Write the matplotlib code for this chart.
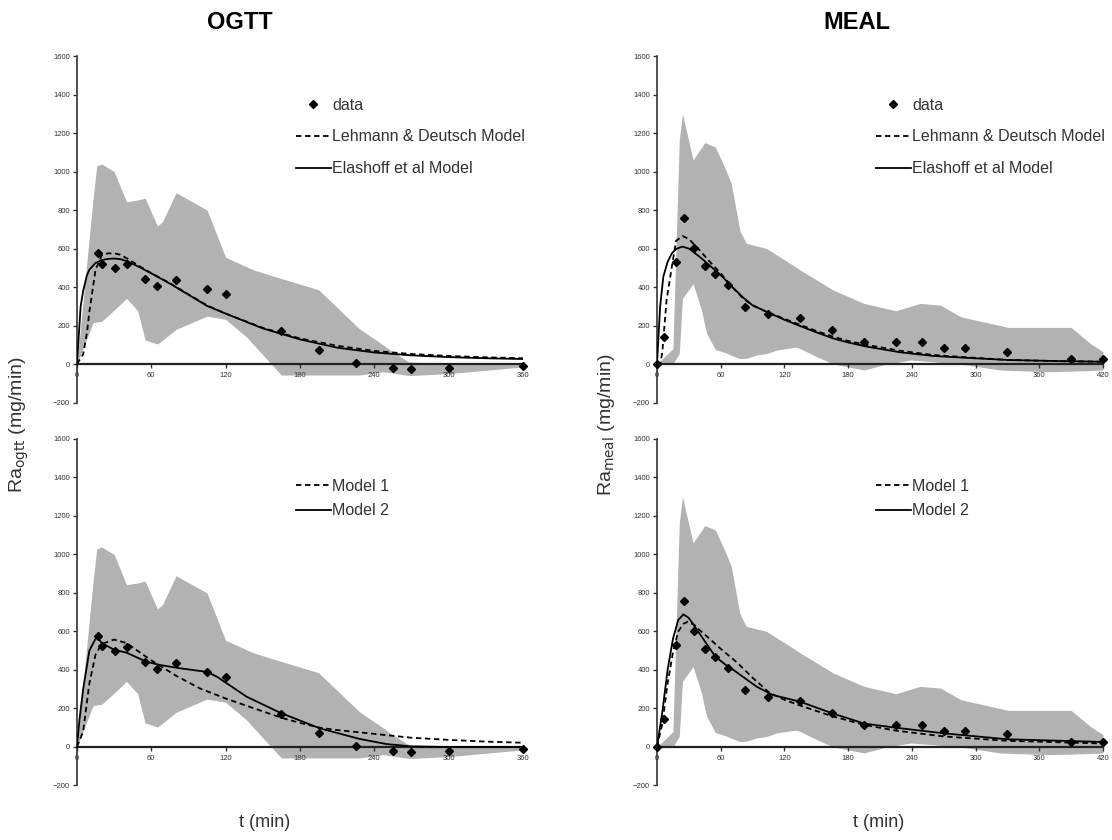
import matplotlib
matplotlib.use("Agg")
import matplotlib.pyplot as plt

plt.rcParams['font.family'] = ['Liberation Sans', 'DejaVu Sans']

# ---- OGTT data (mean) ----
ogtt_t = [17, 20, 31, 40, 55, 65, 80, 105, 120, 165, 195, 225, 255, 270, 300, 360]
ogtt_y = [575, 522, 500, 520, 443, 407, 435, 391, 364, 173, 74, 7, -21, -28, -21, -10]

# OGTT SD band
ogtt_band_t = [0, 13, 16, 20, 30, 40, 49, 55, 65, 69, 80, 105, 120, 137, 143,
               165, 195, 228, 247, 253, 268, 300, 360]
ogtt_band_hi = [0, 860, 1030, 1039, 1000, 843, 852, 862, 717, 739, 890, 800, 554, 505, 488,
                444, 386, 183, 100, 72, 10, 5, 5]
ogtt_band_lo = [0, 215, 218, 222, 280, 341, 277, 125, 104, 123, 180, 249, 232, 140, 97,
                -57, -57, -57, -40, -45, -60, -50, -15]

# OGTT models (top): Lehmann & Deutsch, Elashoff
ogtt_ld_t = [0, 5, 8, 10, 15, 20, 25, 30, 35, 40, 50, 60, 75, 90, 105, 120, 150, 180, 210, 240, 270, 300, 330, 360]
ogtt_ld_y = [0, 50, 160, 270, 490, 565, 575, 575, 568, 550, 510, 472, 420, 362, 305, 262, 188, 133, 95, 68, 52, 42, 35, 30]
ogtt_el_t = [0, 3, 5, 8, 10, 15, 20, 25, 30, 35, 40, 50, 60, 75, 90, 105, 120, 150, 180, 210, 240, 270, 300, 330, 360]
ogtt_el_y = [0, 300, 380, 460, 490, 525, 540, 546, 548, 545, 535, 505, 471, 418, 360, 302, 262, 185, 128, 85, 60, 45, 36, 30, 26]

# OGTT models (bottom): Model 1, Model 2
ogtt_m1_t = [0, 5, 10, 15, 20, 30, 40, 50, 60, 80, 100, 120, 150, 165, 180, 196, 210, 228, 240, 261, 270, 300, 330, 360]
ogtt_m1_y = [0, 80, 330, 480, 535, 558, 540, 495, 450, 370, 302, 252, 185, 152, 125, 100, 88, 76, 68, 54, 48, 37, 28, 22]
ogtt_m2_t = [0, 2, 5, 10, 16, 20, 30, 40, 56, 67, 83, 105, 113, 137, 164, 196, 228, 250, 270, 300, 360]
ogtt_m2_y = [0, 140, 300, 500, 575, 540, 505, 490, 443, 426, 409, 390, 365, 261, 178, 97, 42, 15, 3, 0, 0]

# ---- MEAL data (mean) ----
meal_t = [0, 7, 18, 25, 35, 45, 55, 67, 83, 105, 135, 165, 195, 225, 250, 270, 290, 330, 390, 420]
meal_y = [0, 143, 528, 757, 604, 511, 470, 408, 295, 262, 237, 175, 116, 114, 116, 82, 85, 65, 27, 24]

# MEAL SD band
meal_band_t = [0, 15, 21, 24, 34, 42, 45, 47, 55, 65, 70, 78, 84, 94, 103, 113, 131, 135, 147, 166,
               195, 213, 225, 239, 248, 260, 267, 286, 292, 323, 331, 370, 390, 408, 420]
meal_band_hi = [0, 80, 1163, 1300, 1060, 1125, 1150, 1146, 1127, 1006, 937, 694, 627, 613, 601, 566, 503, 488, 448, 384,
                315, 292, 277, 300, 315, 309, 306, 246, 238, 200, 190, 190, 190, 107, 64]
meal_band_lo = [0, 0, 55, 341, 417, 279, 200, 157, 75, 58, 45, 28, 30, 47, 54, 73, 88, 80, 47, 0,
                -31, -5, 8, 21, 17, 12, 8, -2, -5, -31, -33, -40, -37, -34, -31]

# MEAL models (top)
meal_ld_t = [0, 3, 5, 9, 14, 18, 24, 30, 40, 50, 60, 70, 81, 90, 103, 120, 135, 150, 166, 180, 198, 229, 260, 292, 331, 380, 420]
meal_ld_y = [0, 0, 60, 330, 505, 640, 665, 650, 592, 530, 471, 405, 341, 305, 272, 235, 203, 172, 142, 120, 99, 69, 47, 35, 21, 15, 12]
meal_el_t = [0, 3, 6, 10, 14, 18, 24, 30, 40, 50, 60, 70, 81, 90, 103, 120, 135, 150, 166, 180, 198, 229, 260, 292, 331, 380, 420]
meal_el_y = [0, 300, 454, 530, 575, 598, 610, 600, 558, 510, 462, 405, 346, 305, 272, 230, 197, 165, 133, 112, 90, 61, 42, 32, 21, 15, 12]

# MEAL models (bottom)
meal_m1_t = [0, 5, 10, 15, 20, 25, 29, 35, 40, 50, 60, 72, 78, 90, 106, 120, 135, 165, 195, 225, 270, 330, 420]
meal_m1_y = [0, 120, 330, 490, 600, 640, 651, 635, 608, 560, 510, 455, 425, 360, 282, 245, 215, 160, 115, 85, 55, 32, 18]
meal_m2_t = [0, 5, 10, 15, 20, 25, 30, 40, 55, 67, 72, 94, 109, 135, 165, 195, 225, 270, 330, 420]
meal_m2_y = [0, 180, 400, 560, 660, 689, 670, 590, 469, 417, 400, 313, 270, 235, 175, 122, 100, 71, 40, 26]

BAND = '#b2b2b2'
INK = '#222222'


def style_axes(ax, xmax):
    ax.set_xlim(0, xmax)
    ax.set_ylim(-200, 1600)
    ax.set_xticks(range(0, xmax + 1, 60))
    ax.set_yticks(range(-200, 1601, 200))
    for s in ['top', 'right']:
        ax.spines[s].set_visible(False)
    ax.spines['bottom'].set_position(('data', 0))
    ax.spines['bottom'].set_linewidth(1.6)
    ax.spines['bottom'].set_color(INK)
    ax.spines['bottom'].set_zorder(2.5)
    ax.spines['left'].set_linewidth(1.2)
    ax.spines['left'].set_color('#333333')
    ax.tick_params(axis='both', direction='out', length=3, width=1, color='#333333',
                   labelsize=5.5, labelcolor='#333333')
    ax.tick_params(axis='x', pad=3)
    ax.tick_params(axis='y', pad=2)
    ax.patch.set_alpha(0)


def draw_panel(ax, band_t, lo, hi, dt, dy, curves, xmax, show_data):
    ax.fill_between(band_t, lo, hi, color=BAND, linewidth=0, zorder=1)
    if show_data:
        ax.plot(dt, dy, linestyle='none', marker='D', markersize=3.6, color='black',
                zorder=4, clip_on=False, label='data')
    else:
        ax.plot(dt, dy, linestyle='none', marker='D', markersize=3.6, color='black',
                zorder=4, clip_on=False)
    for t, y, ls, lab in curves:
        if ls == 'dashed':
            ax.plot(t, y, color='black', linewidth=1.3, dashes=(3, 2), label=lab, zorder=3)
        else:
            ax.plot(t, y, color='black', linewidth=1.3, label=lab, zorder=3)
    style_axes(ax, xmax)
    if show_data:
        ax.legend(loc='upper left', bbox_to_anchor=(0.49, 0.88), frameon=False,
                  fontsize=11.5, handlelength=2.2, handletextpad=0.1, labelspacing=1.05,
                  borderpad=0, borderaxespad=0, labelcolor='#333333')
    else:
        ax.legend(loc='upper left', bbox_to_anchor=(0.49, 0.885), frameon=False,
                  fontsize=11.5, handlelength=2.2, handletextpad=0.1, labelspacing=0.6,
                  borderpad=0, borderaxespad=0, labelcolor='#333333')


def main():
    fig = plt.figure(figsize=(11.12, 8.4), dpi=100)
    w, h = 0.4011, 0.4125
    ax_tl = fig.add_axes([0.0692, 0.5208, w, h])
    ax_tr = fig.add_axes([0.5908, 0.5208, w, h])
    ax_bl = fig.add_axes([0.0692, 0.0649, w, h])
    ax_br = fig.add_axes([0.5908, 0.0649, w, h])

    draw_panel(ax_tl, ogtt_band_t, ogtt_band_lo, ogtt_band_hi, ogtt_t, ogtt_y,
               [(ogtt_ld_t, ogtt_ld_y, 'dashed', 'Lehmann & Deutsch Model'),
                (ogtt_el_t, ogtt_el_y, 'solid', 'Elashoff et al Model')], 360, True)
    draw_panel(ax_tr, meal_band_t, meal_band_lo, meal_band_hi, meal_t, meal_y,
               [(meal_ld_t, meal_ld_y, 'dashed', 'Lehmann & Deutsch Model'),
                (meal_el_t, meal_el_y, 'solid', 'Elashoff et al Model')], 420, True)
    draw_panel(ax_bl, ogtt_band_t, ogtt_band_lo, ogtt_band_hi, ogtt_t, ogtt_y,
               [(ogtt_m1_t, ogtt_m1_y, 'dashed', 'Model 1'),
                (ogtt_m2_t, ogtt_m2_y, 'solid', 'Model 2')], 360, False)
    draw_panel(ax_br, meal_band_t, meal_band_lo, meal_band_hi, meal_t, meal_y,
               [(meal_m1_t, meal_m1_y, 'dashed', 'Model 1'),
                (meal_m2_t, meal_m2_y, 'solid', 'Model 2')], 420, False)

    fig.text(0.216, 0.973, 'OGTT', fontsize=17, fontweight='bold', ha='center', va='center')
    fig.text(0.771, 0.973, 'MEAL', fontsize=17, fontweight='bold', ha='center', va='center')

    fig.text(0.017, 0.494, r'Ra$_{\mathrm{ogtt}}$ (mg/min)', fontsize=14, rotation=90,
             ha='center', va='center', color='#333333')
    fig.text(0.545, 0.494, r'Ra$_{\mathrm{meal}}$ (mg/min)', fontsize=14, rotation=90,
             ha='center', va='center', color='#333333')

    fig.text(0.238, 0.021, 't (min)', fontsize=13, ha='center', va='center', color='#333333')
    fig.text(0.79, 0.021, 't (min)', fontsize=13, ha='center', va='center', color='#333333')

    fig.savefig('out.png', dpi=100)
    plt.close(fig)


if __name__ == "__main__":
    main()
